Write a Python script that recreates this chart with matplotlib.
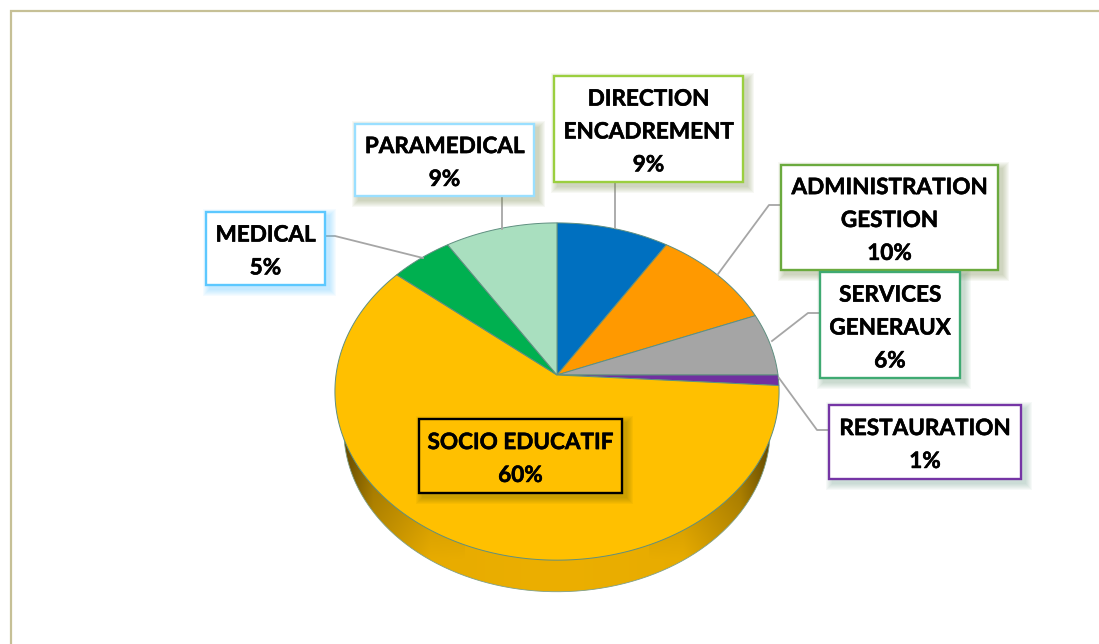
import numpy as np
import matplotlib
matplotlib.use('Agg')
import matplotlib.pyplot as plt
import matplotlib.patheffects as pe
from matplotlib.patches import Polygon, Rectangle

# donnees
labels = ['DIRECTION\nENCADREMENT\n9%', 'ADMINISTRATION\nGESTION\n10%', 'SERVICES\nGENERAUX\n6%',
          'RESTAURATION\n1%', 'SOCIO EDUCATIF\n60%', 'MEDICAL\n5%', 'PARAMEDICAL\n9%']
values = [9, 10, 6, 1, 60, 5, 9]
colors = ['#0070C0', '#FF9900', '#A5A5A5', '#7030A0', '#FFC000', '#00B050', '#A9DFBF']
box_colors = ['#9BCF3F', '#6BAA3E', '#3FAA72', '#7535A5', '#000000', '#5CC8FF', '#9ADFFF']
shadow_colors = ['#7F8F50', '#7F8F50', '#6F9F80', '#70A090', '#6F6A00', '#5CC8FF', '#7F8F50']

# boites : x0, y0, x1, y1
boxes = [(554, 76, 743, 182), (781, 165, 998, 270), (820, 272, 960, 378),
         (829, 405, 1021, 479), (419, 419, 622, 493), (206, 212, 325, 285), (355, 124, 534, 196)]
leaders = [[(615, 182), (615, 228)],
           [(781, 205), (769, 205), (718, 274)],
           [(820, 313), (808, 313), (772, 341)],
           [(829, 430), (817, 430), (779, 378)],
           None,
           [(325, 236), (335, 236), (423, 258)],
           [(502, 196), (502, 229)]]

CX, CY = 557, 375
A, B, K = 221, 167, 0.098


def project(theta, scale=1.0, y0=CY):
    # cercle vu en perspective, theta en sens horaire depuis le haut
    u, v = np.sin(theta), np.cos(theta)
    w = 1 + K * v
    return CX + scale * A * u / w, y0 - scale * B * v / w


fig = plt.figure(figsize=(10.99, 6.44), dpi=100)
ax = fig.add_axes([0, 0, 1, 1])
ax.set_xlim(0, 1099)
ax.set_ylim(644, 0)
ax.axis('off')

# cadre
ax.plot([11, 11, 1099], [644, 11, 11], color='#C6C096', lw=1.6, solid_joinstyle='miter')

# flanc du camembert
t = np.linspace(0, 2 * np.pi, 720)
lx, ly = project(t, 0.96, 414)
rim = Polygon(np.column_stack([lx, ly]), closed=True, facecolor='none', edgecolor='none')
ax.add_patch(rim)
nx = np.abs(np.linspace(-1, 1, 460))
shade = np.interp(nx, [0, 0.55, 0.8, 0.92, 1], [1.0, 0.98, 0.82, 0.55, 0.3])
fade = np.interp(np.linspace(380, 600, 220), [380, 450, 560, 600], [0.55, 0.8, 1.0, 1.0])
gain = np.clip(shade * (1 - (1 - fade[:, None]) * (nx > 0.4)), 0, 1)
img = np.zeros((220, 460, 3), dtype=np.uint8)
img[:, :, 0] = 236 * gain
img[:, :, 1] = 175 * gain
im = ax.imshow(img, extent=(327, 787, 600, 380), aspect='auto', zorder=2)
ax.set_xlim(0, 1099)
ax.set_ylim(644, 0)
im.set_clip_path(rim)
ax.plot(lx[150:570], ly[150:570], color='#7FA08A', lw=0.6, zorder=2.5)

# parts
start = 0.0
for val, col in zip(values, colors):
    end = start + val / sum(values) * 2 * np.pi
    th = np.linspace(start, end, max(int(val * 8), 4))
    x, y = project(th)
    pts = np.column_stack([np.r_[CX, x], np.r_[CY, y]])
    ax.add_patch(Polygon(pts, closed=True, facecolor=col, edgecolor='#5F8F80', lw=0.7, zorder=3))
    start = end

# traits de rappel
for pts in leaders:
    if pts is None:
        continue
    xs, ys = zip(*pts)
    ax.plot(xs, ys, color='#A6A6A6', lw=1.3, zorder=3.5)

# etiquettes
for lab, bx, bc, sc in zip(labels, boxes, box_colors, shadow_colors):
    x0, y0, x1, y1 = bx
    for d in range(7, 0, -1):
        ax.add_patch(Rectangle((x0 + 4 - d, y0 + 4 - d), x1 - x0 + 2 * d, y1 - y0 + 2 * d,
                               facecolor=sc, edgecolor='none', alpha=0.06, zorder=4))
    face = '#FFC000' if lab.startswith('SOCIO') else 'white'
    ax.add_patch(Rectangle((x0, y0), x1 - x0, y1 - y0, facecolor=face, edgecolor=bc, lw=1.7, zorder=5))
    ax.text((x0 + x1) / 2, (y0 + y1) / 2 + 3, lab, ha='center', va='center', family='Lato',
            fontweight='bold', fontsize=16.2, linespacing=1.7, color='black', zorder=6,
            path_effects=[pe.withStroke(linewidth=0.4, foreground='black')])

fig.savefig('out.png', dpi=100)
